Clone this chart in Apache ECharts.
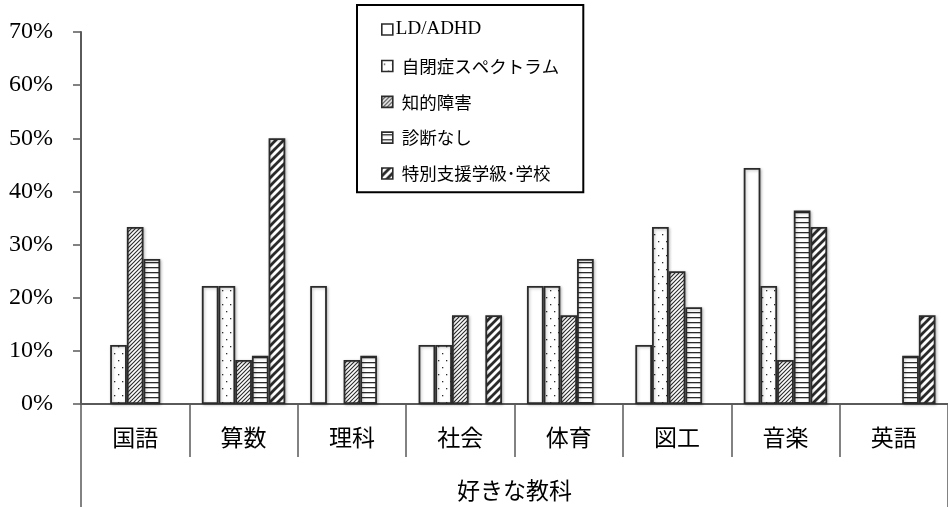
<!DOCTYPE html>
<html>
<head>
<meta charset="utf-8">
<script src="https://cdn.jsdelivr.net/npm/echarts@6/dist/echarts.min.js"></script>
<style>
  html, body { margin: 0; padding: 0; background: #fff; }
  #chart { width: 948px; height: 507px; }
</style>
</head>
<body>
<div id="chart"></div>
<script>
// Favourite school subjects by group (percent of each group)
const subjects = ['国語', '算数', '理科', '社会', '体育', '図工', '音楽', '英語'];
const groupNames = ['LD/ADHD', '自閉症スペクトラム', '知的障害', '診断なし', '特別支援学級･学校'];
const ldAdhd   = [0, 22.2, 22.2, 11.1, 22.2, 11.1, 44.4, 0];
const autism   = [11.1, 22.2, 0, 11.1, 22.2, 33.3, 22.2, 0];
const intellec = [33.3, 8.3, 8.3, 16.7, 16.7, 25.0, 8.3, 0];
const noDiag   = [27.3, 9.1, 9.1, 0, 27.3, 18.2, 36.4, 9.1];
const special  = [0, 50.0, 0, 16.7, 0, 0, 33.3, 16.7];
const yTicks = { min: 0, max: 70, step: 10 };
const axisTitle = '好きな教科';

const INK = '#2b2b2b';

// Monochrome fill tiles for each group
function tile(w, h, draw) {
  const c = document.createElement('canvas');
  c.width = w; c.height = h;
  const g = c.getContext('2d');
  g.fillStyle = '#fff';
  g.fillRect(0, 0, w, h);
  g.strokeStyle = INK;
  g.fillStyle = INK;
  draw(g, w, h);
  return { image: c, repeat: 'repeat' };
}
const fills = [
  tile(4, 4, () => {}),
  tile(8, 14, (g) => {
    g.fillRect(2, 3, 1.3, 1.3);
    g.fillRect(6, 10, 1.3, 1.3);
  }),
  tile(4, 4, (g) => {
    g.lineWidth = 1.1;
    g.beginPath();
    g.moveTo(-1, 5); g.lineTo(5, -1);
    g.moveTo(-1, 1); g.lineTo(1, -1);
    g.moveTo(3, 5); g.lineTo(5, 3);
    g.stroke();
  }),
  tile(4, 5, (g) => {
    g.fillRect(0, 2, 4, 1.3);
  }),
  tile(8, 8, (g) => {
    g.lineWidth = 2.8;
    g.beginPath();
    g.moveTo(-2, 10); g.lineTo(10, -2);
    g.moveTo(-2, 2); g.lineTo(2, -2);
    g.moveTo(6, 10); g.lineTo(10, 6);
    g.stroke();
  })
];

const seriesValues = [ldAdhd, autism, intellec, noDiag, special];

const axisGray = '#5a5a5a';
const chart = echarts.init(document.getElementById('chart'), null, { renderer: 'canvas' });

chart.setOption({
  animation: false,
  backgroundColor: '#fff',
  grid: { left: 81, top: 32, width: 871, height: 372, containLabel: false },
  legend: {
    orient: 'vertical',
    left: 357,
    top: 5,
    padding: [15, 24, 10, 24],
    itemGap: 18.3,
    itemWidth: 11,
    itemHeight: 11,
    borderColor: '#000',
    borderWidth: 2,
    icon: 'rect',
    itemStyle: { borderColor: INK, borderWidth: 1.6 },
    data: groupNames,
    formatter: (n) => n === 'LD/ADHD' ? '{s|' + n + '}' : '{j|' + n + '}',
    textStyle: {
      color: '#000',
      rich: {
        s: { fontFamily: 'Liberation Serif', fontSize: 19, color: '#000', padding: [0, 0, 0, -2] },
        j: { fontFamily: 'Noto Sans CJK JP', fontSize: 17.5, color: '#000', padding: [0, 0, 0, 4] }
      }
    }
  },
  xAxis: [
    {
      type: 'category',
      data: subjects,
      position: 'bottom',
      axisLine: { show: true, lineStyle: { color: axisGray, width: 2 } },
      axisTick: { show: true, length: 53, alignWithLabel: false, lineStyle: { color: axisGray, width: 1.5 } },
      axisLabel: { margin: 22, color: '#000', fontFamily: 'Noto Sans CJK JP', fontSize: 23 },
      splitLine: { show: false }
    },
    {
      type: 'category',
      data: [axisTitle],
      position: 'bottom',
      axisLine: { show: false },
      axisTick: { show: true, length: 110, alignWithLabel: false, lineStyle: { color: axisGray, width: 1.5 } },
      axisLabel: { margin: 75, color: '#000', fontFamily: 'Noto Sans CJK JP', fontSize: 23 },
      splitLine: { show: false }
    }
  ],
  yAxis: {
    type: 'value',
    min: yTicks.min,
    max: yTicks.max,
    interval: yTicks.step,
    axisLine: { show: true, lineStyle: { color: axisGray, width: 2 } },
    axisTick: { show: true, length: 8, inside: false, lineStyle: { color: axisGray, width: 1.5 } },
    axisLabel: { margin: 28, formatter: '{value}%', color: '#000', fontFamily: 'Liberation Serif', fontSize: 24 },
    splitLine: { show: false }
  },
  series: groupNames.map((name, i) => ({
    name,
    type: 'bar',
    xAxisIndex: 0,
    barGap: '0%',
    barCategoryGap: '23%',
    data: seriesValues[i].map((v) => (v === 0 ? null : v)),
    itemStyle: {
      color: fills[i],
      borderColor: INK,
      borderWidth: 1.8,
      shadowBlur: 3,
      shadowColor: 'rgba(0,0,0,0.25)',
      shadowOffsetX: 1,
      shadowOffsetY: 1
    }
  }))
});
</script>
</body>
</html>
